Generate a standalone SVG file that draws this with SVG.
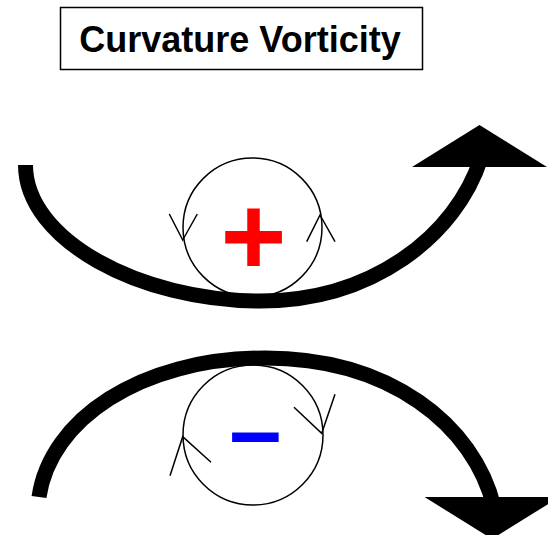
<svg xmlns="http://www.w3.org/2000/svg" width="548" height="535" viewBox="0 0 548 535">
<style>
.flow{fill:none;stroke:#000;stroke-width:15}
.head{fill:#000}
.circ{fill:none;stroke:#000;stroke-width:1.5}
.tick{fill:none;stroke:#000;stroke-width:1.5;stroke-linecap:butt}
.sign{font-family:"Liberation Sans",Arial,sans-serif;font-weight:bold;text-anchor:middle}
</style>
<rect width="548" height="535" fill="#fff"/>
<g id="title">
<rect x="60.5" y="7.5" width="362" height="62" fill="#fff" stroke="#000" stroke-width="1.5"/>
<text x="240" y="52" font-family="Liberation Sans, Arial, sans-serif" font-weight="bold" font-size="36" text-anchor="middle">Curvature Vorticity</text>
</g>
<g id="connectors">
<path class="flow" d="M25.5,165 C25.5,240 140,301 260,301 C372,301 456,236 481,158"/>
<polygon class="head" points="412,167 547,167 479.5,125"/>
<path class="flow" d="M39,497 C50,420 140,358 265,358 C390,358 474,425 494,507"/>
<polygon class="head" points="424.5,497 559.5,497 492,539"/>
</g>
<g id="positive">
<circle class="circ" cx="252.5" cy="227.5" r="69.5"/>
<polyline class="tick" points="169.3,214 182.7,240 197.3,214"/>
<polyline class="tick" points="306.7,241.7 320,215 335,241.7"/>
<text class="sign" x="253.5" y="275" font-size="113" fill="#f00">+</text>
</g>
<g id="negative">
<circle class="circ" cx="253" cy="435" r="70"/>
<polyline class="tick" points="294,407.3 321.7,433.3 335,394.3"/>
<polyline class="tick" points="170,475.7 182.7,436.7 211,462.3"/>
<text class="sign" x="255.5" y="463" font-size="94" fill="#00f">–</text>
</g>
</svg>
